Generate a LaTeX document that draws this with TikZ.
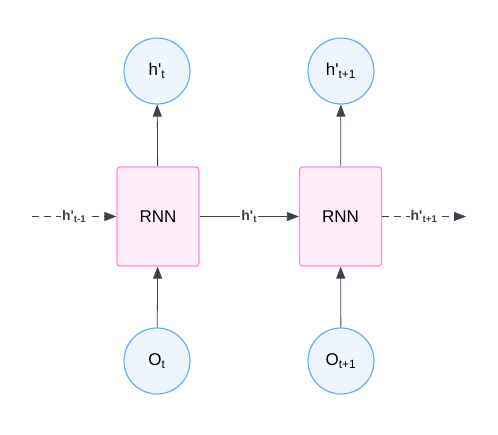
\documentclass[tikz,border=0pt]{standalone}
\usepackage{fontspec}
\setmainfont{Liberation Sans}
\usetikzlibrary{arrows.meta}

\definecolor{cellfill}{HTML}{EEF5FF}
\definecolor{celldraw}{HTML}{6AAEFA}
\definecolor{rnnfill}{HTML}{FFEEF9}
\definecolor{rnndraw}{HTML}{FF8ADE}
\definecolor{linkgray}{HTML}{3C424B}

\tikzset{
  state/.style = {circle, minimum size=66pt, inner sep=0pt, fill=cellfill, draw=celldraw, line width=1.2pt, font=\fontsize{17}{20}\selectfont},
  rnnbox/.style = {rectangle, rounded corners=3pt, minimum width=82pt, minimum height=99pt, fill=rnnfill, draw=rnndraw, line width=1.2pt, font=\fontsize{17}{20}\selectfont},
  link/.style = {draw=linkgray, line width=0.8pt, -{Triangle[length=12pt, width=9pt]}},
  hlabel/.style = {fill=white, inner sep=1pt, font=\bfseries\fontsize{14}{16}\selectfont, text=linkgray}
}
\newcommand{\hq}{h\textquotesingle}

\begin{document}
\begin{tikzpicture}[x=1pt, y=-1pt]
\useasboundingbox (0,0) rectangle (498,434);

\node[rnnbox] (rnn1) at (158,216.5) {RNN};
\node[rnnbox] (rnn2) at (340.5,216.5) {RNN};

\node[state] (h1) at (157,71) {\hq\textsubscript{t}};
\node[state] (h2) at (341,71) {\hq\textsubscript{t+1}};
\node[state] (o1) at (157,361) {O\textsubscript{t}};
\node[state] (o2) at (341,361) {O\textsubscript{t+1}};

\coordinate (in) at (32,216.5);
\coordinate (out) at (466,216.5);

\draw[link] (rnn1) -- (h1);
\draw[link] (rnn2) -- (h2);
\draw[link] (o1) -- (rnn1);
\draw[link] (o2) -- (rnn2);

\draw[link, dash pattern=on 7pt off 5pt] (in) -- node[hlabel] {\hq\textsubscript{t-1}} (rnn1);
\draw[link] (rnn1) -- node[hlabel] {\hq\textsubscript{t}} (rnn2);
\draw[link, dash pattern=on 7pt off 5pt] (rnn2) -- node[hlabel] {\hq\textsubscript{t+1}} (out);
\end{tikzpicture}
\end{document}
